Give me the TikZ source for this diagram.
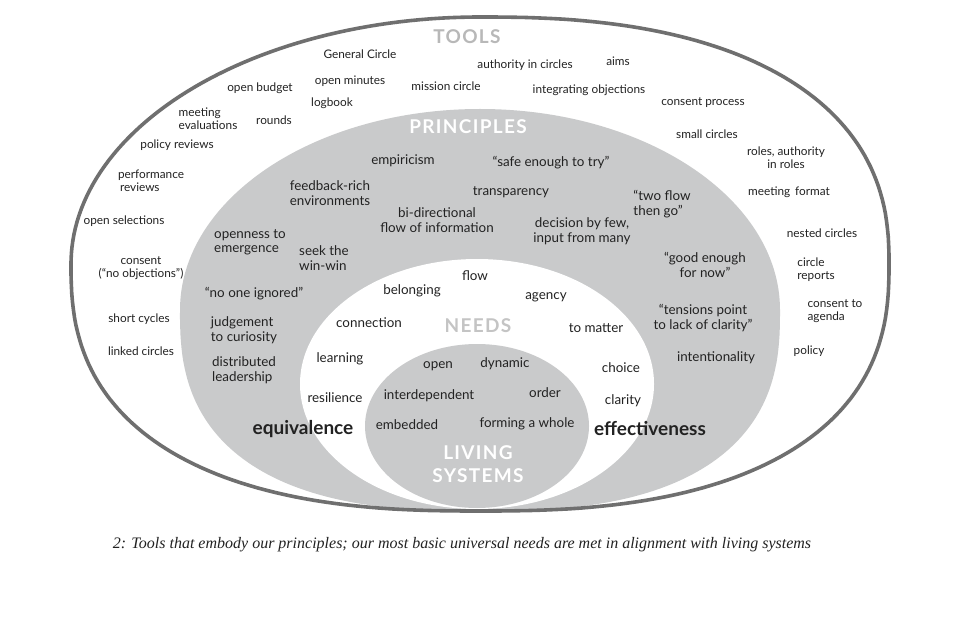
\documentclass[tikz,border=0pt]{standalone}
\usepackage{fontspec}
\setmainfont{Lato}
\newfontfamily\capsfont{Lato}[LetterSpace=7]
\newfontfamily\capfont{Liberation Serif}
\definecolor{fillgray}{HTML}{C9CACB}
\definecolor{rimgray}{HTML}{6F6F6F}
\definecolor{txt}{HTML}{222222}
\definecolor{toolsgray}{HTML}{B8B8B8}
\definecolor{needsgray}{HTML}{C4C4C4}
\begin{document}
\begin{tikzpicture}[x=1pt,y=-1pt,
  every node/.style={inner sep=0pt,text=txt},
  tool/.style={font=\fontsize{11.8}{13}\selectfont,align=center},
  toolL/.style={font=\fontsize{11.8}{13}\selectfont,align=left},
  prin/.style={font=\fontsize{13.4}{14.5}\selectfont,align=center},
  prinL/.style={font=\fontsize{13.4}{14.5}\selectfont,align=left},
  need/.style={font=\fontsize{13.4}{14.5}\selectfont,align=center},
  bigword/.style={font=\fontsize{19}{21}\selectfont\bfseries},
  ringlabel/.style={font=\capsfont\bfseries\fontsize{19}{21}\selectfont,align=center},
]
\useasboundingbox (0,0) rectangle (960,620);
\fill[white] (0,0) rectangle (960,620);
% principles (elliptic top, fuller bottom)
\fill[fillgray] (780,310) arc[start angle=0,end angle=-180,x radius=300,y radius=201]
  -- plot[domain=1:89,samples=60] ({480-300*pow(cos(\x),0.77)},{310+201*pow(sin(\x),0.77)})
  -- (480,511)
  -- plot[domain=89:1,samples=60] ({480+300*pow(cos(\x),0.77)},{310+201*pow(sin(\x),0.77)})
  -- cycle;
% needs
\fill[white] (477,384) ellipse [x radius=177,y radius=125];
% living systems
\fill[fillgray] (477,426) ellipse [x radius=112,y radius=82];
% outer rim
\draw[rimgray,line width=3.6pt,line join=round] (889,264)
  -- plot[domain=1:89,samples=60] ({480+409*pow(cos(\x),0.83)},{264-247*pow(sin(\x),0.83)})
  -- (480,17)
  -- plot[domain=89:1,samples=60] ({480-409*cos(\x)},{264-247*sin(\x)})
  -- (71,264)
  -- plot[domain=1:89,samples=60] ({480-409*pow(cos(\x),0.8)},{264+247*pow(sin(\x),0.8)})
  -- (480,511)
  -- plot[domain=89:1,samples=60] ({480+409*pow(cos(\x),0.8)},{264+247*pow(sin(\x),0.8)})
  -- cycle;

% ring labels
\node[ringlabel,text=toolsgray] (lTools) at (467,37) {TOOLS};
\node[ringlabel,text=white] (lPrin) at (468,127) {PRINCIPLES};
\node[ringlabel,text=needsgray] (lNeeds) at (478,326) {NEEDS};
\node[ringlabel,text=white,font=\capsfont\bfseries\fontsize{19}{23}\selectfont] (lLiving) at (478,464) {LIVING\\SYSTEMS};

% tools
\node[tool] (t1) at (360,54) {General Circle};
\node[tool] (t2) at (525,65) {authority in circles};
\node[tool] (t3) at (618,61) {aims};
\node[tool] (t4) at (260,88) {open budget};
\node[tool] (t5) at (350,81) {open minutes};
\node[tool] (t6) at (446,86) {mission circle};
\node[tool] (t7) at (589,90) {integrating objections};
\node[tool] (t8) at (332,103) {logbook};
\node[tool] (t9) at (703,103) {consent process};
\node[toolL] (t10) at (208,119) {meeting\\evaluations};
\node[tool] (t11) at (274,120) {rounds};
\node[tool] (t12) at (707,134) {small circles};
\node[tool] (t13) at (177,145) {policy reviews};
\node[tool] (t14) at (786,158) {roles, authority\\in roles};
\node[toolL] (t15) at (151,181) {performance\\\hspace{2pt}reviews};
\node[tool] (t16) at (789,192) {meeting\hspace{2pt} format};
\node[tool] (t17) at (124,221) {open selections};
\node[tool] (t18) at (822,233) {nested circles};
\node[tool] (t19) at (141,268) {consent\\(``no objections'')};
\node[toolL] (t20) at (816,270) {circle\\reports};
\node[toolL] (t21) at (835,311) {consent to\\agenda};
\node[tool] (t22) at (139,319) {short cycles};
\node[tool] (t23) at (141,351) {linked circles};
\node[tool] (t24) at (809,351) {policy};

% principles
\node[prin] (p1) at (403,161) {empiricism};
\node[prin] (p2) at (551,163) {``safe enough to try''};
\node[prinL] (p3) at (330,193) {feedback-rich\\environments};
\node[prin] (p4) at (511,192) {transparency};
\node[prinL] (p5) at (662,204) {``two flow\\then go''};
\node[prin] (p6) at (437,220) {bi-directional\\flow of information};
\node[prin] (p7) at (582,231) {decision by few,\\input from many};
\node[prinL] (p8) at (250,242) {openness to\\emergence};
\node[prinL] (p9) at (324,258) {seek the\\win-win};
\node[prin] (p10) at (705,265) {``good enough\\for now''};
\node[prin] (p11) at (254,294) {``no one ignored''};
\node[prin] (p12) at (703,318) {``tensions point\\to lack of clarity''};
\node[prinL] (p13) at (244,330) {judgement\\to curiosity};
\node[prin] (p14) at (716,358) {intentionality};
\node[prinL] (p15) at (244,370) {distributed\\leadership};
\node[bigword] (p16) at (303,429) {equivalence};
\node[bigword] (p17) at (650,429) {effectiveness};

% needs
\node[need] (n1) at (475,276) {flow};
\node[need] (n2) at (412,291) {belonging};
\node[need] (n3) at (546,297) {agency};
\node[need] (n4) at (369,323) {connection};
\node[need] (n5) at (596,328) {to matter};
\node[need] (n6) at (340,359) {learning};
\node[need] (n7) at (621,368) {choice};
\node[need] (n8) at (335,398) {resilience};
\node[need] (n9) at (623,401) {clarity};

% living systems
\node[need] (s1) at (438,366) {open};
\node[need] (s2) at (505,364) {dynamic};
\node[need] (s3) at (429,396) {interdependent};
\node[need] (s4) at (545,393) {order};
\node[need] (s5) at (407,425) {embedded};
\node[need] (s6) at (527,424) {forming a whole};

% caption
\node[font=\capfont\itshape\fontsize{16}{18}\selectfont] (cap) at (462,545) {2: Tools that embody our principles; our most basic universal needs are met in alignment with living systems};
\end{tikzpicture}
\end{document}
